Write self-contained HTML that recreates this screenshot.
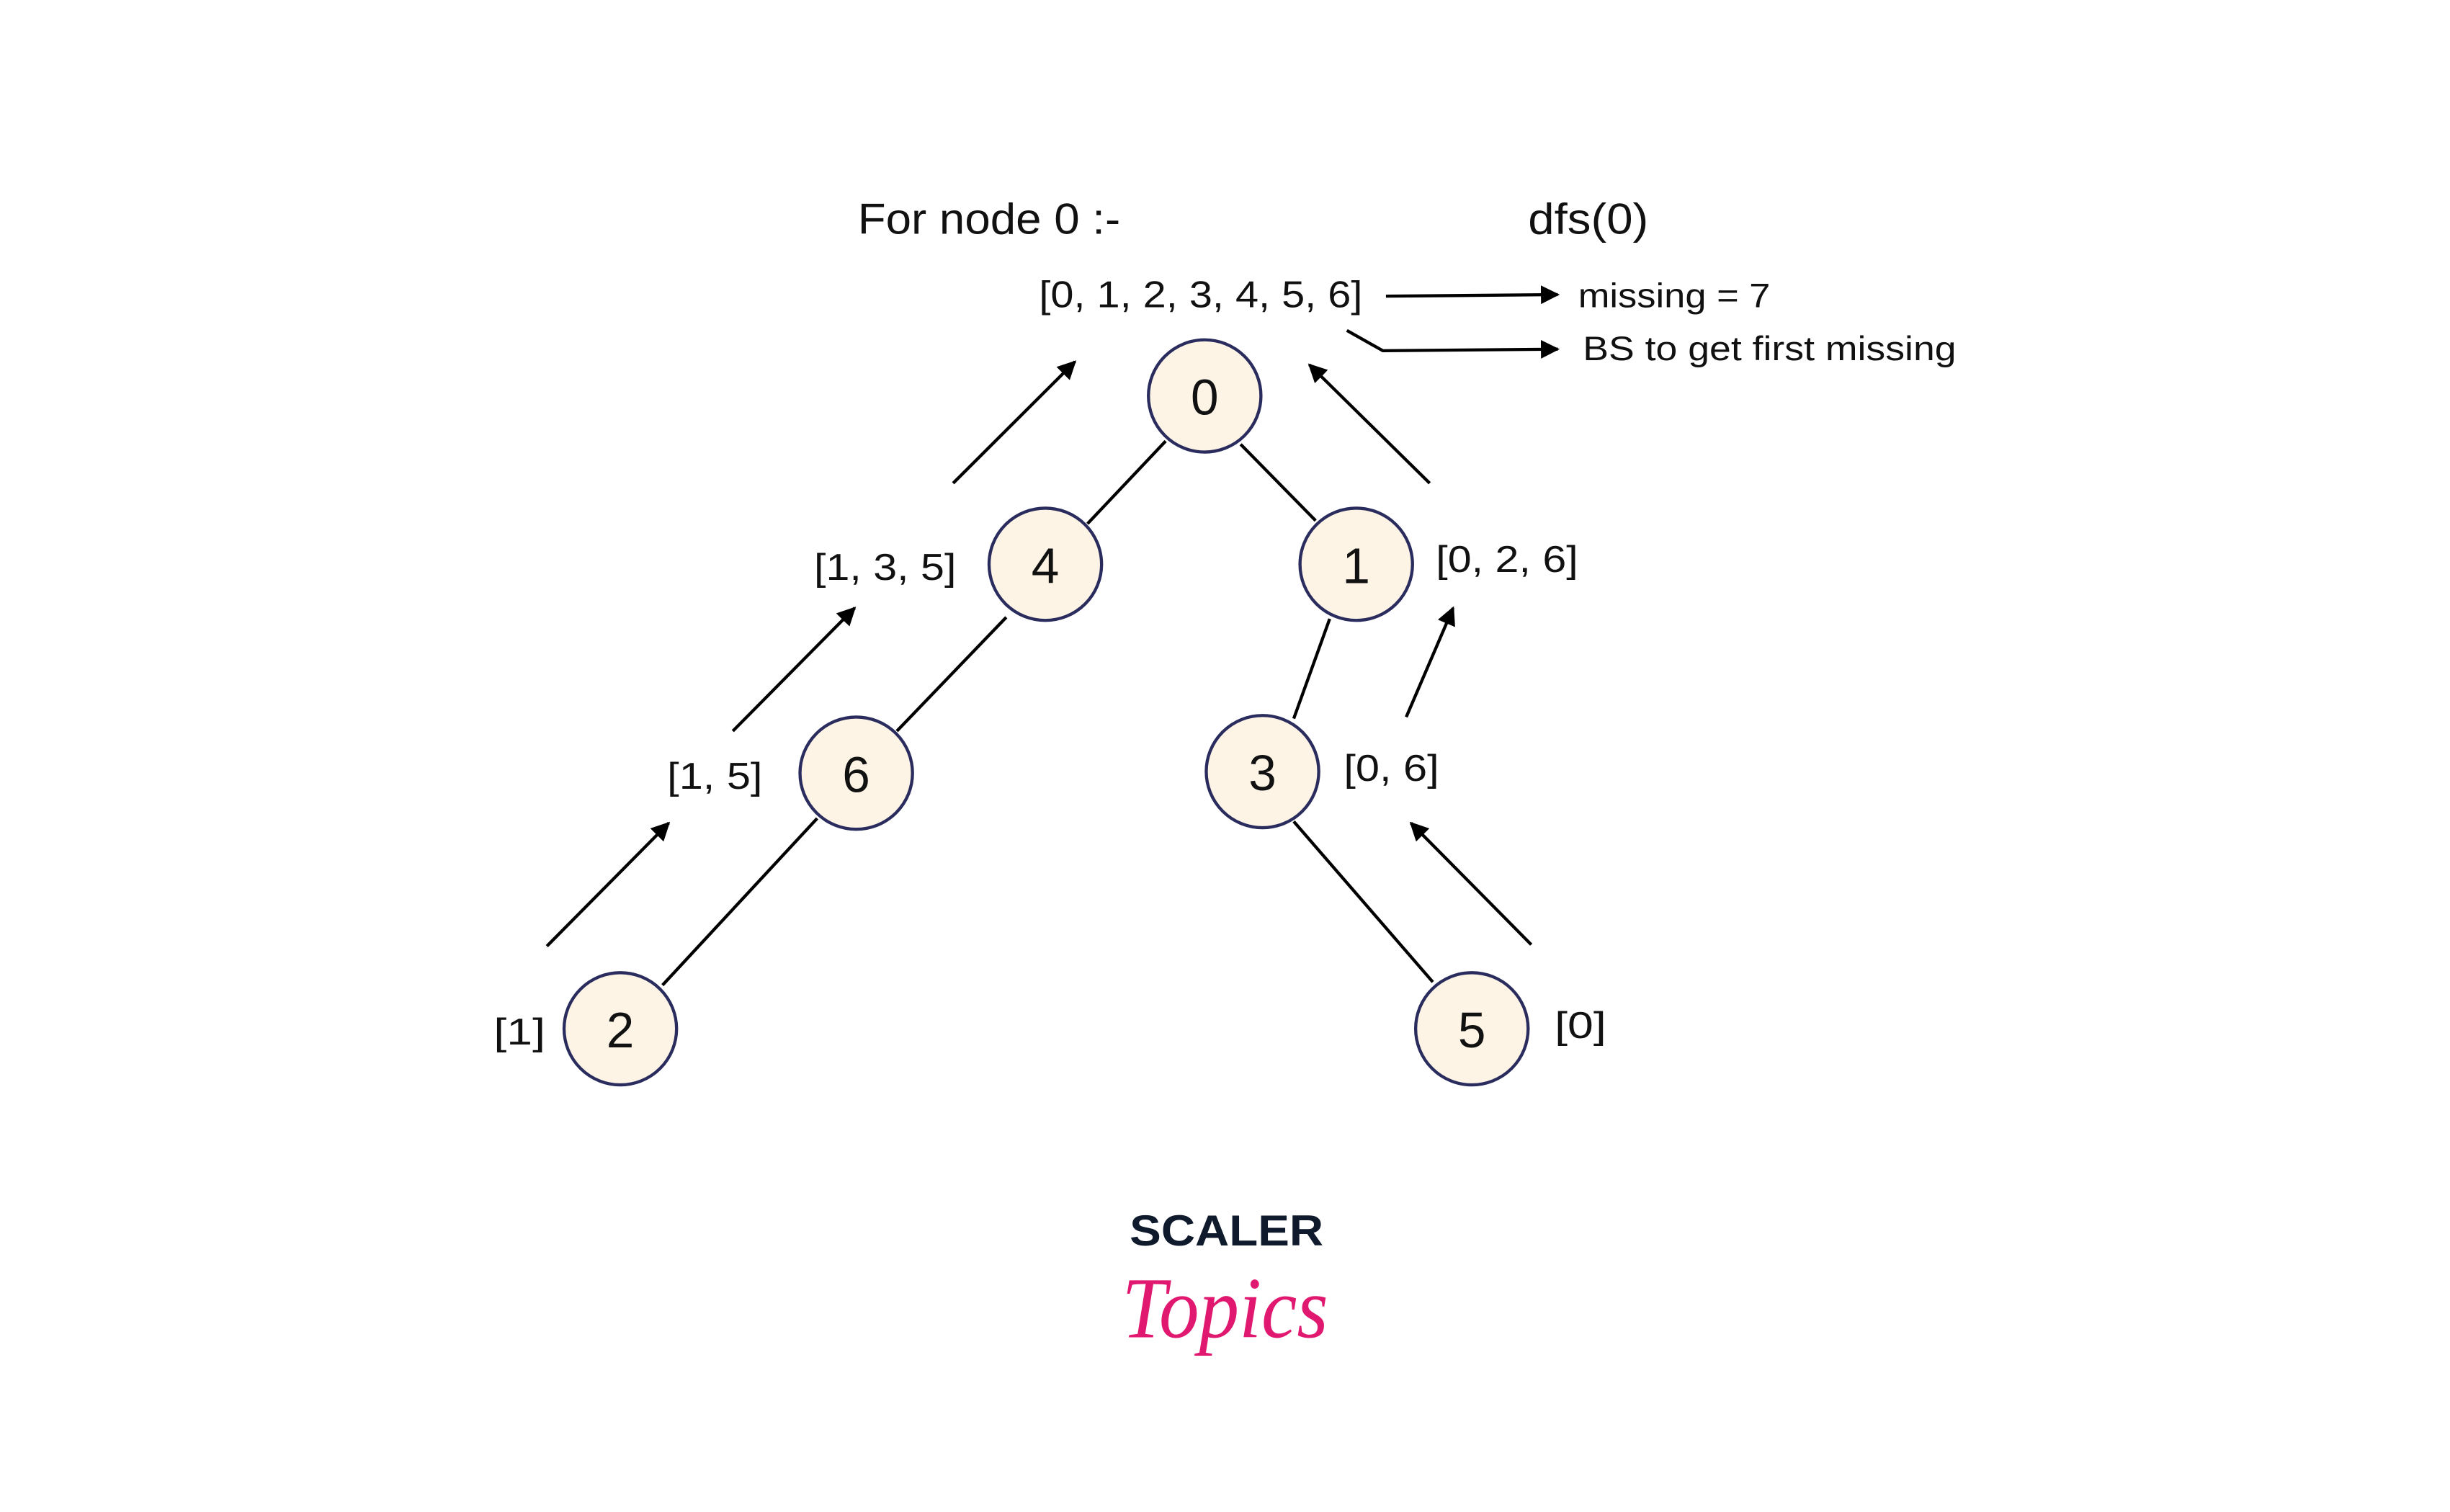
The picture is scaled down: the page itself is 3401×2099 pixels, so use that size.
<!DOCTYPE html>
<html><head><meta charset="utf-8"><style>
html,body{margin:0;padding:0;background:#fff;}
svg{display:block;}
text{font-family:"Liberation Sans",sans-serif;fill:#111;}
</style></head><body>
<svg width="3401" height="2099" viewBox="0 0 1568 970" preserveAspectRatio="none" xmlns="http://www.w3.org/2000/svg">
<defs><marker id="a" viewBox="0 0 10 10" refX="9" refY="5" markerWidth="6" markerHeight="6" orient="auto"><path d="M0,0L10,5L0,10z" fill="#000"/></marker></defs>
<g stroke="#000" stroke-width="2" fill="none">
<line x1="746" y1="283" x2="696" y2="336"/>
<line x1="794" y1="285" x2="842" y2="334"/>
<line x1="644" y1="396" x2="574" y2="469"/>
<line x1="851" y1="397" x2="828" y2="461"/>
<line x1="523" y1="525" x2="424" y2="632"/>
<line x1="828" y1="527" x2="917" y2="630"/>
<g marker-end="url(#a)">
<line x1="610" y1="310" x2="688" y2="232"/>
<line x1="915" y1="310" x2="838" y2="234"/>
<line x1="469" y1="469" x2="547" y2="390"/>
<line x1="900" y1="460" x2="930" y2="390"/>
<line x1="350" y1="607" x2="428" y2="528"/>
<line x1="980" y1="606" x2="903" y2="528"/>
<line x1="887" y1="190" x2="997" y2="189"/>
<polyline points="862,212 885,225 997,224"/>
</g></g>
<g fill="#fdf4e6" stroke="#2a2c5e" stroke-width="2">
<circle cx="771" cy="254" r="36"/><circle cx="669" cy="362" r="36"/><circle cx="868" cy="362" r="36"/>
<circle cx="548" cy="496" r="36"/><circle cx="808" cy="495" r="36"/><circle cx="397" cy="660" r="36"/><circle cx="942" cy="660" r="36"/>
</g>
<g font-size="32" text-anchor="middle">
<text x="771" y="266">0</text><text x="669" y="374">4</text><text x="868" y="374">1</text>
<text x="548" y="508">6</text><text x="808" y="507">3</text><text x="397" y="672">2</text><text x="942" y="672">5</text>
</g>
<text x="549" y="150" font-size="28" textLength="168" lengthAdjust="spacingAndGlyphs">For node 0 :-</text>
<text x="978" y="150" font-size="28" textLength="77" lengthAdjust="spacingAndGlyphs">dfs(0)</text>
<g font-size="24">
<text x="665" y="197" textLength="207" lengthAdjust="spacingAndGlyphs">[0, 1, 2, 3, 4, 5, 6]</text>
<text x="521" y="372" textLength="91" lengthAdjust="spacingAndGlyphs">[1, 3, 5]</text>
<text x="919" y="367" textLength="91" lengthAdjust="spacingAndGlyphs">[0, 2, 6]</text>
<text x="427" y="506" textLength="61" lengthAdjust="spacingAndGlyphs">[1, 5]</text>
<text x="860" y="501" textLength="61" lengthAdjust="spacingAndGlyphs">[0, 6]</text>
<text x="316" y="670" textLength="33" lengthAdjust="spacingAndGlyphs">[1]</text>
<text x="995" y="666" textLength="33" lengthAdjust="spacingAndGlyphs">[0]</text>
</g>
<g font-size="22">
<text x="1010" y="197" textLength="123" lengthAdjust="spacingAndGlyphs">missing = 7</text>
<text x="1013" y="231" textLength="239" lengthAdjust="spacingAndGlyphs">BS to get first missing</text>
</g>
<text x="723" y="799" font-size="28" font-weight="bold" style="fill:#0f1a2c" textLength="124" lengthAdjust="spacingAndGlyphs">SCALER</text>
<text x="718" y="858" font-size="56" font-style="italic" style="fill:#e0186f;font-family:'Liberation Serif',serif" textLength="132" lengthAdjust="spacingAndGlyphs">Topics</text>
</svg>
</body></html>
